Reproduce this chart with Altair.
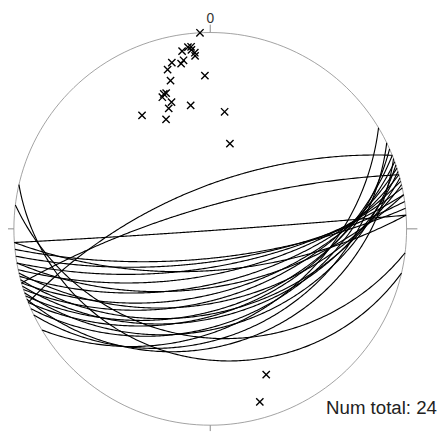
import numpy as np
import pandas as pd
import altair as alt

# Great circles (planes): dip direction and dip, degrees
plane_dipdir = [338, 344, 176, 193, 149, 187,
                174, 172, 170, 176, 168, 166, 170, 164, 162,
                167, 160, 158, 163, 156, 161, 154, 165, 159]
plane_dip = [66, 77, 89, 23, 38, 32,
             73, 71, 68, 66, 64, 59, 57, 54, 51,
             49, 46, 44, 42, 39, 37, 33, 44, 29]

# Poles / lineations shown as crosses: trend and plunge, degrees
pole_trend = [357, 351, 353, 354, 354, 355, 355, 347, 350, 351, 345, 358,
              345, 341, 342, 340, 343, 341, 351, 329, 338, 7, 13, 159, 164]
pole_plunge = [0, 5, 4, 4, 5, 6, 7, 8, 9, 8, 10, 14,
               14, 18, 18, 19, 22, 24, 25, 22, 28, 28, 42, 13, 5]

total_label = "Num total: 24"
north_label = "0"

# ---- stereographic (Wulff) lower-hemisphere projection ----
def proj(e, n, d):
    return e / (1 + d), n / (1 + d)

rows = []
for i, (dd, dip) in enumerate(zip(plane_dipdir, plane_dip)):
    ddr, dr = np.radians(dd), np.radians(dip)
    s = np.array([np.sin(ddr - np.pi / 2), np.cos(ddr - np.pi / 2), 0.0])
    dv = np.array([np.sin(ddr) * np.cos(dr), np.cos(ddr) * np.cos(dr), np.sin(dr)])
    for k, phi in enumerate(np.linspace(0, np.pi, 241)):
        v = np.cos(phi) * s + np.sin(phi) * dv
        x, y = proj(*v)
        rows.append({"plane": i, "k": k, "x": x, "y": y})
gc = pd.DataFrame(rows)

prim = pd.DataFrame({"t": np.arange(0, 361, 2)})
prim["x"] = np.sin(np.radians(prim["t"]))
prim["y"] = np.cos(np.radians(prim["t"]))

pt = np.radians(pole_trend)
pr = np.tan(np.pi / 4 - np.radians(pole_plunge) / 2)
poles = pd.DataFrame({"x": np.sin(pt) * pr, "y": np.cos(pt) * pr})

ticks = pd.DataFrame({
    "x": [0, 0, 1, 1.055, -1, -1.045, 0, 0],
    "y": [1, 1.04, 0, 0, 0, 0, -1, -1.03],
    "g": [0, 0, 1, 1, 2, 2, 3, 3],
})

sx = alt.Scale(domain=[-1, 1], nice=False, zero=False)
sy = alt.Scale(domain=[-1, 1], nice=False, zero=False)
X = lambda: alt.X("x:Q", scale=sx, axis=None)
Y = lambda: alt.Y("y:Q", scale=sy, axis=None)

circle = alt.Chart(prim).mark_line(color="#8a8a8a", strokeWidth=0.8).encode(
    x=X(), y=Y(), order="t:Q")

tick = alt.Chart(ticks).mark_line(color="#8a8a8a", strokeWidth=1).encode(
    x=X(), y=Y(), detail="g:N")

lines = alt.Chart(gc).mark_line(color="black", strokeWidth=1.15).encode(
    x=X(), y=Y(), detail="plane:N", order="k:Q")

xshape = "M-1,-1L1,1M1,-1L-1,1"
pts = alt.Chart(poles).mark_point(shape=xshape, size=55, color="black",
                                  strokeWidth=1.4, filled=False, opacity=1).encode(
    x=X(), y=Y())

lab0 = alt.Chart(pd.DataFrame({"x": [0], "y": [1.05], "t": [north_label]})).mark_text(
    font="Liberation Sans", fontSize=14, color="#333", align="center",
    baseline="alphabetic").encode(x=X(), y=Y(), text="t:N")

labt = alt.Chart(pd.DataFrame({"x": [0.59], "y": [-0.945], "t": [total_label]})).mark_text(
    font="Liberation Sans", fontSize=19, color="#222", align="left",
    baseline="alphabetic").encode(x=X(), y=Y(), text="t:N")

chart = alt.layer(circle, tick, lines, pts, lab0, labt).properties(
    width=400, height=400,
    autosize=alt.AutoSizeParams(type="none"),
    padding={"left": 6, "top": 21, "right": 32, "bottom": 5},
).configure_view(stroke=None)

chart.save("out.html", embed_options={"renderer": "svg", "actions": False})
